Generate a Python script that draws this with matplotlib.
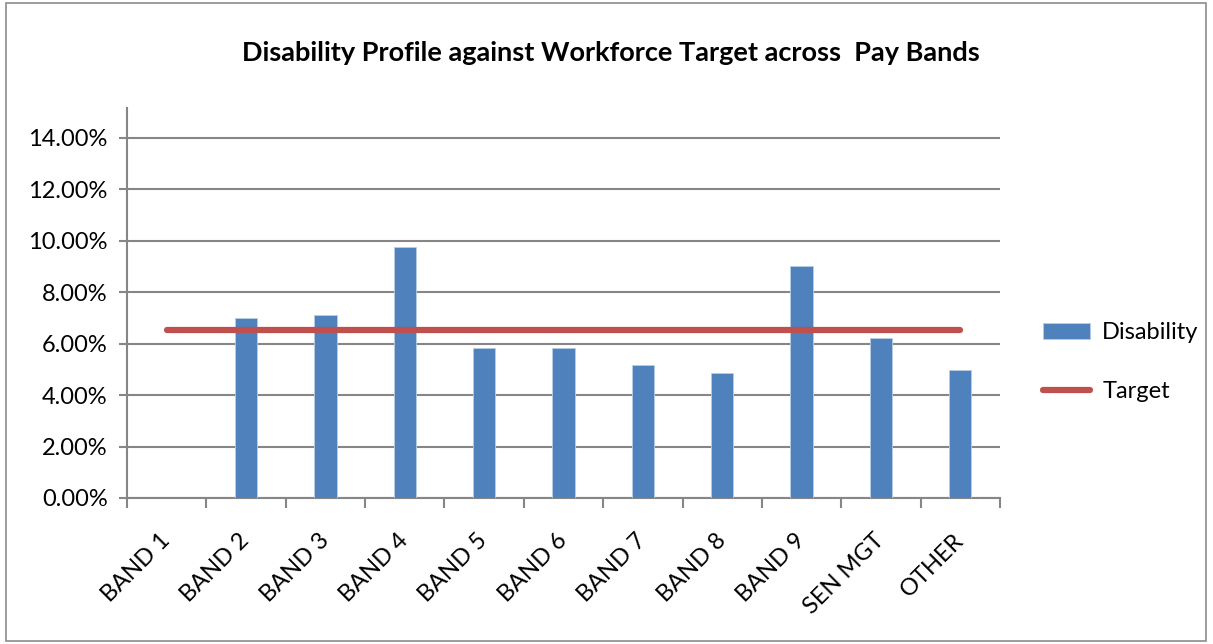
import matplotlib
matplotlib.use("Agg")
import matplotlib.pyplot as plt
from matplotlib.patches import Rectangle
from matplotlib.ticker import FuncFormatter, FixedLocator
import numpy as np

categories = ["BAND 1", "BAND 2", "BAND 3", "BAND 4", "BAND 5", "BAND 6",
              "BAND 7", "BAND 8", "BAND 9", "SEN MGT", "OTHER"]
disability = [0.0, 0.0700, 0.0709, 0.0974, 0.0584, 0.0584, 0.0515, 0.0487,
              0.0902, 0.0620, 0.0496]
target = [0.0652] * len(categories)
yticks = [0.0, 0.02, 0.04, 0.06, 0.08, 0.10, 0.12, 0.14]

plt.rcParams['font.family'] = ['Lato', 'DejaVu Sans']

fig = plt.figure(figsize=(12.13, 6.44), dpi=100)
fig.patch.set_facecolor('white')
fig.add_artist(Rectangle((0.005, 0.004), 0.989, 0.992, transform=fig.transFigure,
                         fill=False, edgecolor='#8c8c8c', linewidth=1.2))

ax = fig.add_axes([127/1213, 1 - 498/644, (1000-127)/1213, (498-108)/644])
x = np.arange(len(categories))
bars = ax.bar(x, disability, width=0.28, color='#4f81bd', edgecolor='#b9cde5',
              linewidth=0.6, label='Disability', zorder=3)
ax.plot(x, target, color='#c0504d', linewidth=4.5, solid_capstyle='round',
        label='Target', zorder=4)

ax.set_xlim(-0.5, len(categories) - 0.5)
ax.set_ylim(0, 0.1515)
ax.yaxis.set_major_locator(FixedLocator(yticks))
ax.yaxis.set_major_formatter(FuncFormatter(lambda v, p: f"{v*100:.2f}%"))
ax.grid(axis='y', color='#868686', linewidth=1.5, zorder=0)
ax.set_axisbelow(True)

for s in ['top', 'right']:
    ax.spines[s].set_visible(False)
for s in ['left', 'bottom']:
    ax.spines[s].set_color('#868686')
    ax.spines[s].set_linewidth(1.5)

ax.tick_params(axis='y', length=6, width=1.5, color='#868686', labelsize=17, pad=8,
               direction='out')
ax.set_xticks(np.arange(len(categories) + 1) - 0.5, minor=False)
ax.set_xticklabels([])
ax.set_xticks(x, minor=True)
ax.set_xticklabels(categories, minor=True, rotation=45, ha='right', va='center',
                   rotation_mode='anchor', fontsize=17)
ax.tick_params(axis='x', which='major', length=7, width=1.5, color='#868686', direction='out')
ax.tick_params(axis='x', which='minor', length=0, pad=28)
ax.set_yticklabels([f"{v*100:.2f}%" for v in yticks], fontsize=17)

fig.text(0.504, 0.918, "Disability Profile against Workforce Target across  Pay Bands",
         ha='center', va='center', fontsize=19.5, fontweight='bold')

leg = fig.legend(handles=[bars, ax.lines[0]], labels=['Disability', 'Target'],
                 loc='center left', bbox_to_anchor=(1022/1213, 1 - 362/644),
                 frameon=False, fontsize=17, handlelength=2.0, labelspacing=1.6,
                 handletextpad=0.5)

fig.savefig("out.png", dpi=100, facecolor='white')
